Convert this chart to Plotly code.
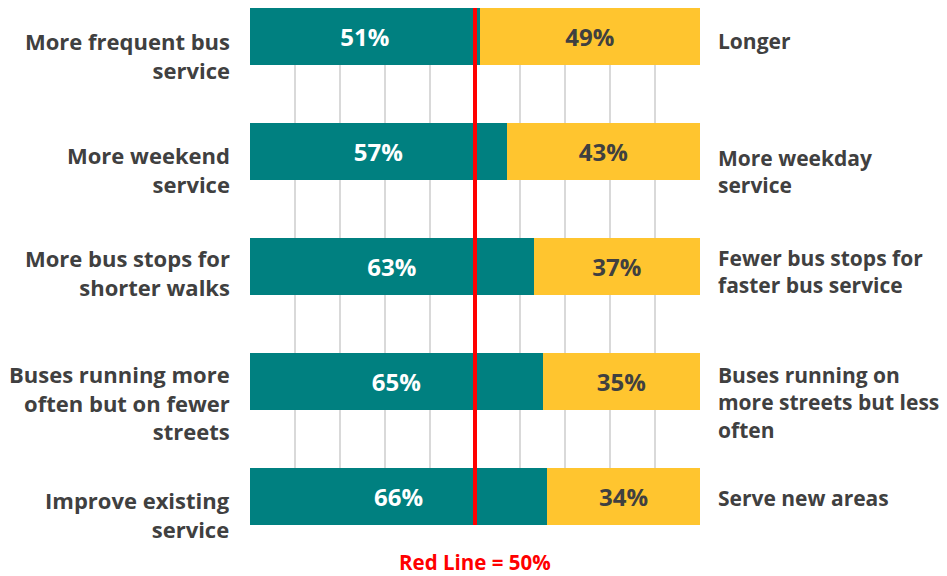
import plotly.graph_objects as go

left_labels = ["More frequent bus<br>service", "More weekend<br>service",
               "More bus stops for<br>shorter walks",
               "Buses running more<br>often but on fewer<br>streets",
               "Improve existing<br>service"]
right_labels = ["Longer", "More weekday<br>service",
                "Fewer bus stops for<br>faster bus service",
                "Buses running on<br>more streets but less<br>often",
                "Serve new areas"]
left_values = [51, 57, 63, 65, 66]
right_values = [49, 43, 37, 35, 34]
red_line_value = 50
caption = "Red Line = 50%"

cats = [f"c{i}" for i in range(len(left_values))]

TEAL = "#008080"
YELLOW = "#FFC52F"
GRAY = "#404040"
FONT = "Open Sans"

# per-label vertical nudges (px, negative = down), matching the original text boxes
left_shift = [-19, -18, -6, -21, -18]
right_shift = [-4, -20, -5, -21, -2]

fig = go.Figure()
fig.add_trace(go.Bar(y=cats, x=left_values, orientation="h", marker_color=TEAL,
                     marker_line_width=0,
                     texttemplate="%{x}%", textposition="inside",
                     insidetextanchor="middle",
                     textfont=dict(color="white", size=24, family=FONT, weight="bold"),
                     hoverinfo="skip"))
fig.add_trace(go.Bar(y=cats, x=right_values, orientation="h", marker_color=YELLOW,
                     marker_line_width=0,
                     texttemplate="%{x}%", textposition="inside",
                     insidetextanchor="middle",
                     textfont=dict(color=GRAY, size=24, family=FONT, weight="bold"),
                     hoverinfo="skip"))

for c, lab, s in zip(cats, left_labels, left_shift):
    fig.add_annotation(x=0, xref="paper", y=c, yref="y", text=lab, showarrow=False,
                       xanchor="right", align="right", xshift=-18, yshift=s,
                       font=dict(size=22, color=GRAY, family=FONT, weight="bold"))
for c, lab, s in zip(cats, right_labels, right_shift):
    fig.add_annotation(x=1, xref="paper", y=c, yref="y", text=lab, showarrow=False,
                       xanchor="left", align="left", xshift=16, yshift=s,
                       font=dict(size=21, color=GRAY, family=FONT, weight="bold"))

fig.add_shape(type="line", x0=red_line_value, x1=red_line_value, xref="x",
              y0=0, y1=1, yref="paper", line=dict(color="#FF0000", width=4))
fig.add_annotation(x=red_line_value, xref="x", y=0, yref="paper", yanchor="middle",
                   yshift=-37, text=caption, showarrow=False,
                   font=dict(size=20.5, color="#FF0000", family=FONT, weight="bold"))

# page body has an 8px margin, so the figure is sized 8px smaller
fig.update_layout(
    width=939, height=568,
    margin=dict(l=242, r=247, t=0, b=51, pad=0),
    barmode="stack", bargap=0.5, showlegend=False,
    plot_bgcolor="white", paper_bgcolor="white",
    xaxis=dict(range=[0, 100], dtick=10, showgrid=True, gridcolor="#D9D9D9",
               gridwidth=1.5, showticklabels=False, zeroline=False, ticks=""),
    yaxis=dict(range=[len(cats) - 0.75, -0.25], showticklabels=False,
               showgrid=False, zeroline=False),
    font=dict(family=FONT),
)

fig.write_html("out.html")
